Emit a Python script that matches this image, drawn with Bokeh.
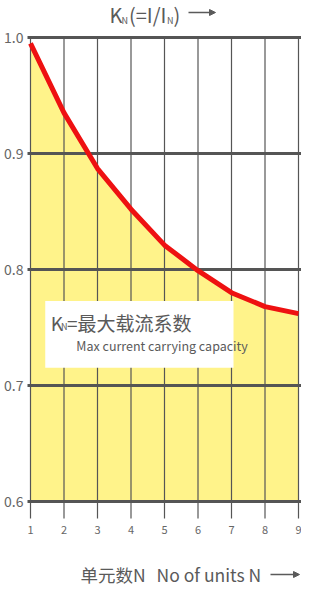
from bokeh.plotting import figure
from bokeh.models import Arrow, NormalHead
from bokeh.core.properties import value
from bokeh.embed import file_html
from bokeh.resources import INLINE

# ---- data ----
units = [1, 2, 3, 4, 5, 6, 7, 8, 9]
kn = [0.995, 0.935, 0.887, 0.852, 0.821, 0.799, 0.780, 0.768, 0.762]
y_ticks = [0.6, 0.7, 0.8, 0.9, 1.0]
y_tick_labels = ["0.6", "0.7", "0.8", "0.9", "1.0"]
x_tick_labels = ["1", "2", "3", "4", "5", "6", "7", "8", "9"]
title_k = "K"
title_sub = "N"
title_mid = "(=I/I"
title_end = ")"
note_cn = "=最大载流系数"
note_en = "Max current carrying capacity"
x_title_cn = "单元数N"
x_title_en = "No of units N"

# ---- layout (canvas pixels) ----
W, H = 301, 591
PX_X = 33.5      # pixels per unit
PX_Y = 1160.0    # pixels per unit of K_N
X1_PX = 30       # canvas x of unit 1
Y1_PX = 37       # canvas y of K_N = 1.0
x0 = units[0] - X1_PX / PX_X
x1 = x0 + W / PX_X
y1 = y_ticks[-1] + Y1_PX / PX_Y
y0 = y1 - H / PX_Y


def cx(c):  # canvas px -> data x
    return x0 + c / PX_X


def cy(c):  # canvas px -> data y
    return y1 - c / PX_Y


GRID = "#555555"
TXT = "#5a5a5a"
FONT = value("Noto Sans CJK SC")

p = figure(width=W, height=H, x_range=(x0, x1), y_range=(y0, y1),
           output_backend="svg", toolbar_location=None, title=None,
           min_border=0)
p.axis.visible = False
p.grid.visible = False
p.outline_line_color = None
p.background_fill_color = "white"
p.border_fill_color = "white"

ymin, ymax = y_ticks[0], y_ticks[-1]

# fill under curve
p.varea(x=units, y1=[ymin] * len(units), y2=kn, fill_color="#fff38a")

# horizontal grid lines
p.segment(x0=[units[0] - 3 / PX_X] * len(y_ticks), x1=[x1] * len(y_ticks),
          y0=y_ticks, y1=y_ticks, line_color=GRID, line_width=3)
# vertical grid lines / ticks
p.segment(x0=units, x1=units, y0=[ymax] * len(units),
          y1=[ymin - 17 / PX_Y] * len(units), line_color=GRID, line_width=1.2)

# tick labels
p.text(x=[units[0] - 7 / PX_X] * len(y_ticks), y=y_ticks, text=y_tick_labels,
       text_font=FONT, text_font_size=value("14px"), text_color="#666666",
       text_align="right", text_baseline="middle")
p.text(x=units, y=[ymin - 28 / PX_Y] * len(units), text=x_tick_labels,
       text_font=FONT, text_font_size=value("11px"), text_color="#666666",
       text_align="center", text_baseline="middle")

# note box (positions from the reference, in data units)
p.quad(left=[1.44], right=[7.06], top=[0.7729], bottom=[0.7153],
       fill_color="white", line_color=None)


def txt(text, x, y, size, color=TXT):
    p.text(x=[x], y=[y], text=[text], text_font=FONT,
           text_font_size=value(size), text_color=color,
           text_align="left", text_baseline="middle")


txt(title_k, 1.606, 0.7546, "19px")
txt(title_sub, 1.91, 0.7506, "9px")
txt(note_cn, 2.09, 0.7546, "19px")
txt(note_en, 2.367, 0.7347, "12.5px")

# curve
p.line(units, kn, line_color="#ee1111", line_width=5)

# top title
txt(title_k, cx(109), cy(14), "20px")
txt(title_sub, cx(121), cy(19.5), "9px")
txt(title_mid, cx(128.5), cy(14), "20px")
txt(title_sub, cx(166.5), cy(19.5), "9px")
txt(title_end, cx(173), cy(14), "20px")
p.add_layout(Arrow(x_start=cx(188), y_start=cy(12), x_end=cx(215), y_end=cy(12),
                   line_color=TXT, line_width=1.5,
                   end=NormalHead(size=6, fill_color=TXT, line_color=TXT)))

# bottom title
txt(x_title_cn, cx(80), cy(574), "17.5px")
txt(x_title_en, cx(156), cy(574), "17.5px")
p.add_layout(Arrow(x_start=cx(270), y_start=cy(574), x_end=cx(299), y_end=cy(574),
                   line_color=TXT, line_width=1.5,
                   end=NormalHead(size=6, fill_color=TXT, line_color=TXT)))

open("out.html", "w").write(file_html(p, INLINE))
